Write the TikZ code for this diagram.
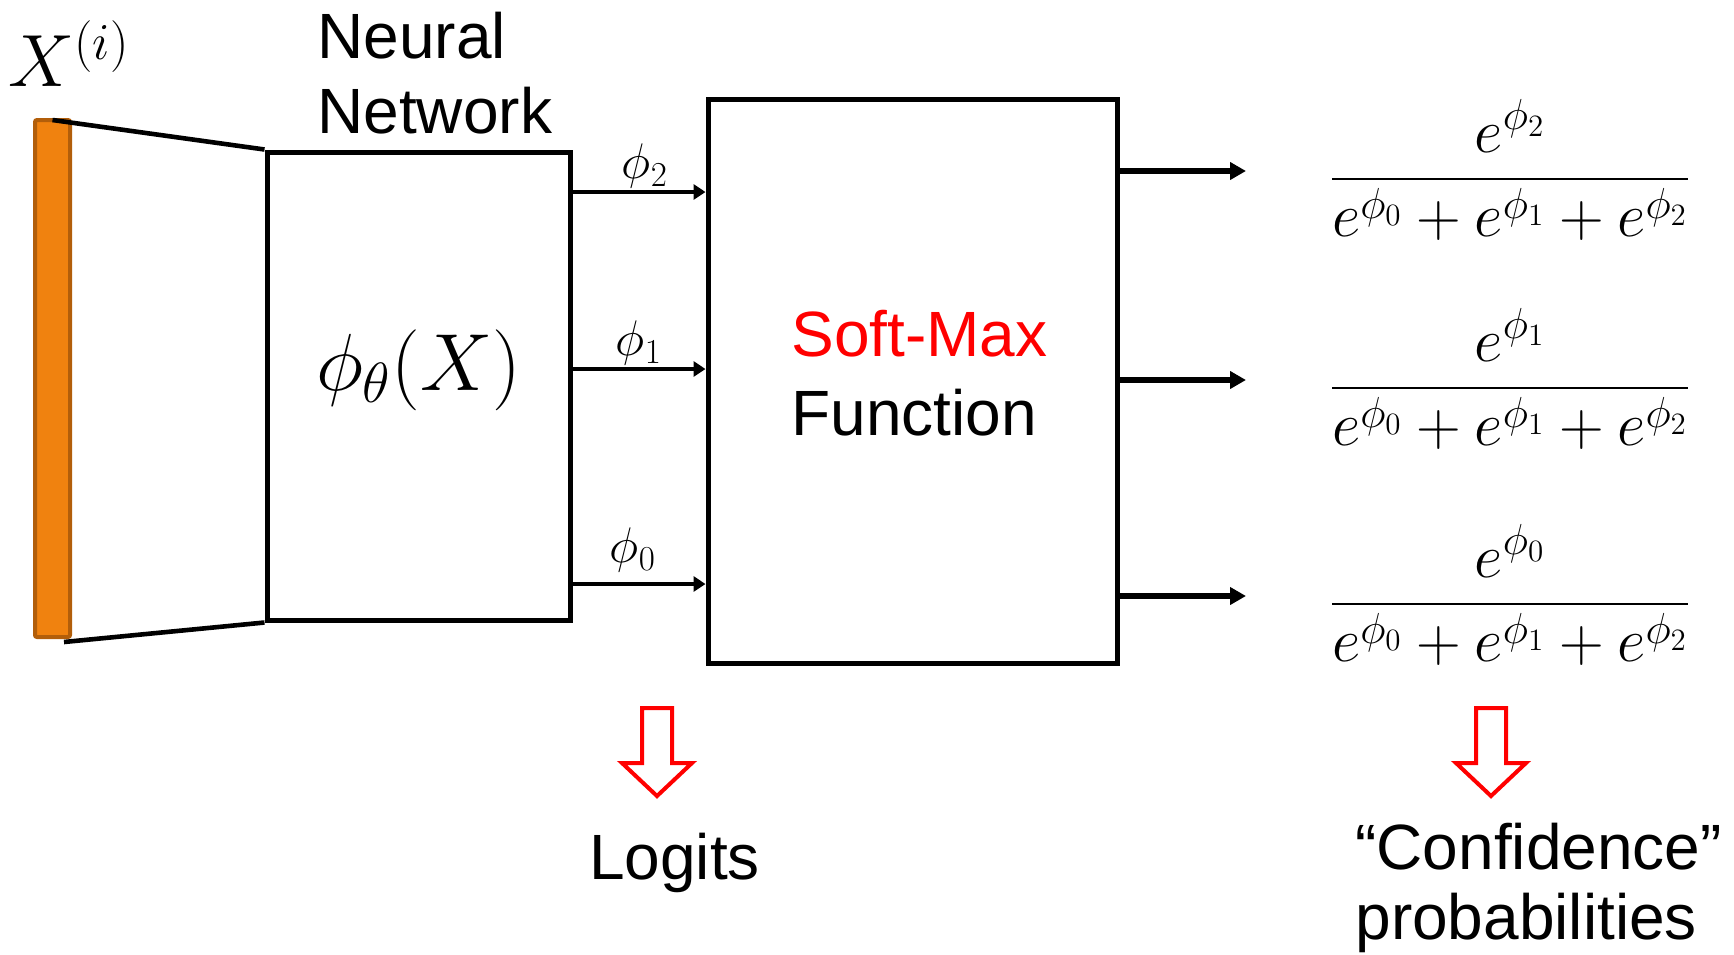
\RequirePackage{fix-cm}
\documentclass[tikz,border=0pt]{standalone}
\usepackage[no-math]{fontspec}
\newfontfamily\arialfont{Liberation Sans}
\usepackage{xcolor}
\definecolor{colBar}{RGB}{240,130,15}
\definecolor{colBarLine}{RGB}{178,94,10}
\usepackage{amsmath}
\usepackage{tikz}
\usetikzlibrary{arrows.meta, positioning}

\begin{document}
\begin{tikzpicture}[x=0.5pt, y=-0.5pt,
		box/.style={draw, line width=2.5pt, inner sep=0pt},
		link/.style={line width=2.3pt, -{Triangle[length=6pt, width=7.5pt]}},
		outlink/.style={line width=3pt, -{Triangle[length=8pt, width=8.5pt]}},
		lbl/.style={font=\arialfont\fontsize{32}{37.5}\selectfont, inner sep=0pt},
		phi/.style={font=\fontsize{25}{29}\selectfont, inner sep=0pt},
		frac/.style={font=\fontsize{31}{37}\selectfont, inner sep=0pt},
		hollow/.style={draw=red, line width=2pt, line join=miter}]
	\useasboundingbox (0,0) rectangle (1734,954);
	\node[box, fill=colBar, draw=colBarLine, line width=2pt, rounded corners=1pt, minimum width=17.5pt, minimum height=258.5pt] (bar) at (52.5,378.5) {};
	\node[font=\fontsize{37}{43}\selectfont, inner sep=0pt] (xin) at (69,54) {$X^{(i)}$};
	\node[box, minimum width=151.5pt, minimum height=234pt] (nn) at (418.5,386) {};
	\node[font=\fontsize{40.5}{46}\selectfont, inner sep=0pt] (phix) at ([yshift=8pt]nn.center) {$\phi_\theta(X)$};
	\node[lbl, align=left, anchor=north west] (nnlbl) at (317,12) {Neural\\Network};
	\draw[line width=2.3pt] ([yshift=-1pt]bar.north) -- (nn.north west);
	\draw[line width=2.3pt] ([xshift=-4pt, yshift=-1.5pt]bar.south east) -- (nn.south west);
	\node[box] (sm) at (912.5,381.5) [minimum width=204.5pt, minimum height=282pt] {};
	\node[lbl, align=left, anchor=north west, font=\arialfont\fontsize{32}{39.5}\selectfont] (smlbl) at (791,310) {\textcolor{red}{Soft-Max}\\Function};
	\node[phi] (p2) at (645,166) {$\phi_2$};
	\node[phi] (p1) at (639,343) {$\phi_1$};
	\node[phi] (p0) at (633,550) {$\phi_0$};
	\draw[link] (nn.east |- 0,192) -- (sm.west |- 0,192);
	\draw[link] (nn.east |- 0,369) -- (sm.west |- 0,369);
	\draw[link] (nn.east |- 0,584) -- (sm.west |- 0,584);
	\node[frac] (f2) at (1510,170) {$\dfrac{e^{\phi_2}}{e^{\phi_0}+e^{\phi_1}+e^{\phi_2}}$};
	\node[frac] (f1) at (1510,379) {$\dfrac{e^{\phi_1}}{e^{\phi_0}+e^{\phi_1}+e^{\phi_2}}$};
	\node[frac] (f0) at (1510,595) {$\dfrac{e^{\phi_0}}{e^{\phi_0}+e^{\phi_1}+e^{\phi_2}}$};
	\coordinate (o2) at (1246,171);
	\coordinate (o1) at (1246,380);
	\coordinate (o0) at (1246,596);
	\draw[outlink] (sm.east |- o2) -- (o2);
	\draw[outlink] (sm.east |- o1) -- (o1);
	\draw[outlink] (sm.east |- o0) -- (o0);
	\coordinate (ar1) at (657,708);
	\coordinate (ar2) at (1491,708);
	\draw[hollow] (ar1) +(-15,0) -- +(15,0) -- +(15,55) -- +(35,55) -- +(0,88) -- +(-35,55) -- +(-15,55) -- cycle;
	\draw[hollow] (ar2) +(-15,0) -- +(15,0) -- +(15,55) -- +(35,55) -- +(0,88) -- +(-35,55) -- +(-15,55) -- cycle;
	\node[lbl, anchor=base] (logits) at (674.6,879) {Logits};
	\node[lbl, align=left, anchor=north west, font=\arialfont\fontsize{32}{35}\selectfont] (conf) at (1355,823) {“Confidence”\\probabilities};
\end{tikzpicture}
\end{document}
